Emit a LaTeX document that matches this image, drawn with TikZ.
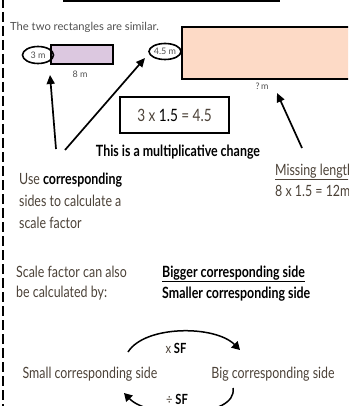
\documentclass[tikz,border=0pt]{standalone}
\usepackage{fontspec}
\usetikzlibrary{arrows.meta}
\setmainfont{Lato}
\newfontfamily\hand[FakeStretch=0.8]{Lato}
\newfontfamily\lbl{Lato}
\definecolor{handcol}{HTML}{4C4238}
\definecolor{lblcol}{HTML}{505050}
\definecolor{lav}{HTML}{DCC8E0}
\definecolor{peach}{HTML}{FDDAC6}
\tikzset{
  lab/.style={font=\lbl\fontsize{9}{10}\selectfont, text=lblcol, inner sep=0pt},
  hw/.style={font=\hand\fontsize{15.5}{17}\selectfont, text=handcol, inner sep=0pt, anchor=base west},
  hwb/.style={font=\hand\bfseries\fontsize{15.5}{17}\selectfont, text=black, inner sep=0pt, anchor=base west},
  bigarrow/.style={draw=black, line width=1.7pt, -{Triangle[length=9pt,width=8pt]}},
  cycarrow/.style={draw=black, line width=1.5pt, -{Triangle[length=8pt,width=9pt]}},
}
\begin{document}
\begin{tikzpicture}[x=1pt,y=-1pt]
\useasboundingbox (0,0) rectangle (348,406);
\clip (0,0) rectangle (348,406);
% frame pieces
\draw[line width=1.8pt] (63,1) -- (280,1);
\draw[line width=1.8pt, dash pattern=on 10pt off 4pt] (3,-2) -- (3,406);
% title
\node[font=\lbl\fontsize{11.2}{12}\selectfont, text=lblcol, anchor=base west, inner sep=0pt] (title) at (10,31) {The two rectangles are similar.};
% small rectangle
\draw[fill=lav, line width=1.1pt] (51,45) rectangle (113,64);
\node[lab] (tri) at (38,55) {3 m};
\draw[line width=1.6pt] (38,55) ellipse (15.5pt and 8.5pt);
\coordinate (smallside) at (50,75);
\node[lab] (eight) at (80,74) {8 m};
% big rectangle
\draw[fill=peach, line width=1.1pt] (182,27) rectangle (360,79);
\node[lab] (fourfive) at (165,51.5) {4.5 m};
\draw[line width=1.6pt] (165,51.5) ellipse (16pt and 8pt);
\coordinate (bigside) at (145,58);
\node[lab] (qm) at (262,86) {?\,m};
\coordinate (qtip) at (277,93);
% calculation box
\node[draw=black, line width=1.1pt, minimum width=109pt, minimum height=36pt, inner sep=0pt,
      font=\hand\fontsize{17}{18}\selectfont, text=handcol] (calc) at (174.5,115) {3 x \textcolor{black}{1.5} = 4.5};
\node[font=\hand\bfseries\fontsize{15.5}{17}\selectfont, inner sep=0pt, anchor=base] (mult) at (178,157) {This is a multiplicative change};
% arrows
\coordinate (t1) at (56,149);
\coordinate (t2) at (65,150);
\coordinate (t3) at (302,148);
\draw[bigarrow] (t1) -- (smallside);
\draw[bigarrow] (t2) -- (bigside);
\draw[bigarrow] (t3) -- (qtip);
% left text
\node[hw] (use) at (19,184) {Use \textcolor{black}{\bfseries corresponding}};
\node[hw] (sides) at (19,206) {sides to calculate a};
\node[hw] (scale) at (19,228) {scale factor};
% missing length
\node[hw] (miss) at (275,175) {\underline{Missing length}};
\node[hw] (calc2) at (275,196) {8 x 1.5 = 12m};
% scale factor also
\node[hw] (sfa) at (16,277) {Scale factor can also};
\node[hw] (sfb) at (16,297) {be calculated by:};
\node[hwb] (bigger) at (162,277) {\underline{Bigger corresponding side}};
\node[hwb] (smaller) at (162,298) {Smaller corresponding side};
% cycle
\node[hw, anchor=base] (small) at (90,378) {Small corresponding side};
\node[hw, anchor=base] (big) at (273,378) {Big corresponding side};
\coordinate (a1) at (128,352);
\coordinate (a2) at (240,350);
\coordinate (b1) at (233,388);
\coordinate (b2) at (124,393);
\draw[cycarrow] (a1) .. controls (145,325) and (215,325) .. (a2);
\draw[cycarrow] (b1) .. controls (238,418) and (150,420) .. (b2);
\node[font=\hand\bfseries\fontsize{14}{15}\selectfont, inner sep=0pt] (xsf) at (176,348) {\textcolor{handcol}{\mdseries x} SF};
\node[font=\hand\bfseries\fontsize{14}{15}\selectfont, inner sep=0pt] (dsf) at (177,399) {\textcolor{handcol}{\mdseries ÷} SF};
\end{tikzpicture}
\end{document}
